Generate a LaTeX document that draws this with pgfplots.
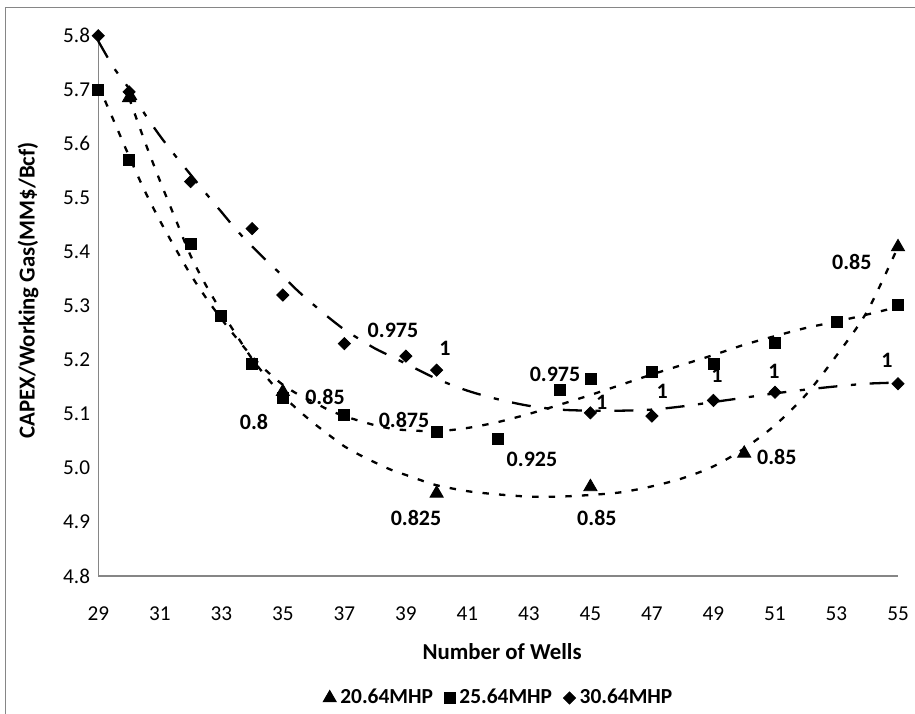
\documentclass[border=0pt]{standalone}
\usepackage{fontspec}
\setmainfont{Carlito}
\usepackage{pgfplots}
\pgfplotsset{compat=1.18}

\definecolor{axisgray}{RGB}{134,134,134}

\tikzset{
  dotted trend/.style={black, line width=1.15pt, dash pattern=on 3.2pt off 5.1pt, smooth},
  dashdot trend/.style={black, line width=1.15pt, dash pattern=on 9.5pt off 6.8pt on 2.6pt off 6.8pt, smooth},
  vlabel/.style={font=\fontsize{11}{13}\selectfont\bfseries, inner sep=0pt, anchor=center},
}

\begin{document}
\begin{tikzpicture}[x=1pt,y=1pt]
\useasboundingbox (0,0) rectangle (457.5,356.5);
% chart frame
\draw[axisgray, line width=0.6pt] (2.85,-2) -- (2.85,352.85) -- (460,352.85);
\begin{axis}[
  at={(49.15pt,68.5pt)}, anchor=south west,
  scale only axis, width=399.85pt, height=270.15pt,
  xmin=29, xmax=55, ymin=4.8, ymax=5.8,
  clip=false,
  axis x line*=bottom, axis y line*=left,
  axis line style={axisgray, line width=0.6pt, -},
  xtick={29,31,...,55},
  ytick={4.8,4.9,5.0,5.1,5.2,5.3,5.4,5.5,5.6,5.7,5.8},
  major tick length=0pt,
  /pgf/number format/assume math mode=true,
  tick label style={font=\fontsize{10.6}{12}\selectfont},
  x tick label style={yshift=-12pt},
  y tick label style={xshift=-0.6pt, /pgf/number format/.cd, fixed, fixed zerofill, precision=1},
  xlabel={Number of Wells},
  ylabel={CAPEX/Working Gas(MM\$/Bcf)},
  label style={font=\fontsize{11.4}{13}\selectfont\bfseries},
  xlabel style={at={(axis description cs:0.505,-0.140)}, anchor=center},
  ylabel style={at={(axis description cs:-0.0879,0.529)}, anchor=center},
  legend columns=3,
  legend image code/.code={\draw[mark repeat=2,mark phase=2,#1] plot coordinates {(0pt,0pt) (3.5pt,0pt) (6.2pt,0pt)};},
  legend style={draw=none, fill=none, at={(axis description cs:0.502,-0.2258)}, anchor=center,
    font=\fontsize{10.7}{13}\selectfont\bfseries, column sep=0pt,
    /tikz/every even column/.append style={column sep=3.7pt}},
  legend cell align=left,
]

% polynomial trend lines
\addplot[dotted trend, no marks, forget plot] coordinates {
(30,5.685)(30.5,5.606)(31,5.532)(31.5,5.462)(32,5.393)(32.5,5.338)(33,5.290)
(33.5,5.245)(34,5.202)(34.5,5.166)(35,5.134)(35.5,5.107)(36,5.083)(36.5,5.061)
(37,5.040)(37.5,5.024)(38,5.010)(38.5,4.997)(39,4.987)(39.5,4.977)(40,4.968)
(41,4.957)(42,4.951)(43,4.947)(44,4.947)(45,4.950)(46,4.955)(47,4.966)(48,4.981)
(49,5.003)(50,5.036)(51,5.079)(52,5.135)(53,5.208)(54,5.290)(55,5.409)};

\addplot[dotted trend, no marks, forget plot] coordinates {
(29,5.708)(29.5,5.643)(30,5.577)(30.5,5.514)(31,5.458)(31.5,5.407)(32,5.358)
(32.5,5.315)(33,5.276)(33.5,5.240)(34,5.206)(34.5,5.178)(35,5.154)(35.5,5.136)
(36,5.122)(36.5,5.107)(37,5.096)(37.5,5.087)(38,5.079)(38.5,5.073)(39,5.070)
(40,5.068)(41,5.074)(42,5.085)(43,5.100)(44,5.117)(45,5.135)(46,5.154)(47,5.173)
(48,5.191)(49,5.209)(50,5.228)(51,5.244)(52,5.259)(53,5.271)(54,5.284)(55,5.298)};

\addplot[dashdot trend, no marks, forget plot] coordinates {
(29,5.790)(29.5,5.741)(30,5.702)(30.5,5.656)(31,5.615)(31.5,5.578)(32,5.543)
(32.5,5.508)(33,5.474)(33.5,5.440)(34,5.410)(34.5,5.382)(35,5.355)(35.5,5.327)
(36,5.302)(36.5,5.278)(37,5.256)(37.5,5.238)(38,5.221)(38.5,5.207)(39,5.193)
(40,5.165)(41,5.143)(42,5.127)(43,5.115)(44,5.108)(45,5.106)(46,5.106)(47,5.108)
(48,5.114)(49,5.122)(50,5.130)(51,5.138)(52,5.145)(53,5.151)(54,5.156)(55,5.158)};

% measured points
\addplot[only marks, mark=triangle*, mark size=3.8pt, black] coordinates {
(30,5.685)(35,5.141)(40,4.953)(45,4.965)(50,5.027)(55,5.409)};
\addlegendentry{20.64MHP}

\addplot[only marks, mark=square*, mark size=2.75pt, black] coordinates {
(29,5.700)(30,5.570)(32,5.414)(33,5.281)(34,5.192)(35,5.129)(37,5.098)(40,5.067)
(42,5.053)(44,5.145)(45,5.164)(47,5.178)(49,5.193)(51,5.231)(53,5.271)(55,5.301)};
\addlegendentry{25.64MHP}

\addplot[only marks, mark=square*, mark size=2.15pt, mark options={rotate=45}, black] coordinates {
(29,5.800)(30,5.696)(32,5.530)(34,5.443)(35,5.320)(37,5.230)(39,5.207)(40,5.181)
(45,5.102)(47,5.096)(49,5.125)(51,5.140)(55,5.156)};
\addlegendentry{30.64MHP}

% point labels
\node[vlabel] at (axis cs:34.06,5.085) {0.8};
\node[vlabel] at (axis cs:36.37,5.131) {0.85};
\node[vlabel] at (axis cs:38.94,5.089) {0.875};
\node[vlabel] at (axis cs:39.33,4.907) {0.825};
\node[vlabel] at (axis cs:38.58,5.255) {0.975};
\node[vlabel] at (axis cs:40.27,5.222) {1};
\node[vlabel] at (axis cs:43.85,5.174) {0.975};
\node[vlabel] at (axis cs:43.10,5.016) {0.925};
\node[vlabel] at (axis cs:45.37,5.122) {1};
\node[vlabel] at (axis cs:45.21,4.907) {0.85};
\node[vlabel] at (axis cs:47.33,5.142) {1};
\node[vlabel] at (axis cs:49.11,5.172) {1};
\node[vlabel] at (axis cs:50.97,5.178) {1};
\node[vlabel] at (axis cs:51.06,5.020) {0.85};
\node[vlabel] at (axis cs:54.64,5.200) {1};
\node[vlabel] at (axis cs:53.50,5.381) {0.85};
\end{axis}
\end{tikzpicture}
\end{document}
